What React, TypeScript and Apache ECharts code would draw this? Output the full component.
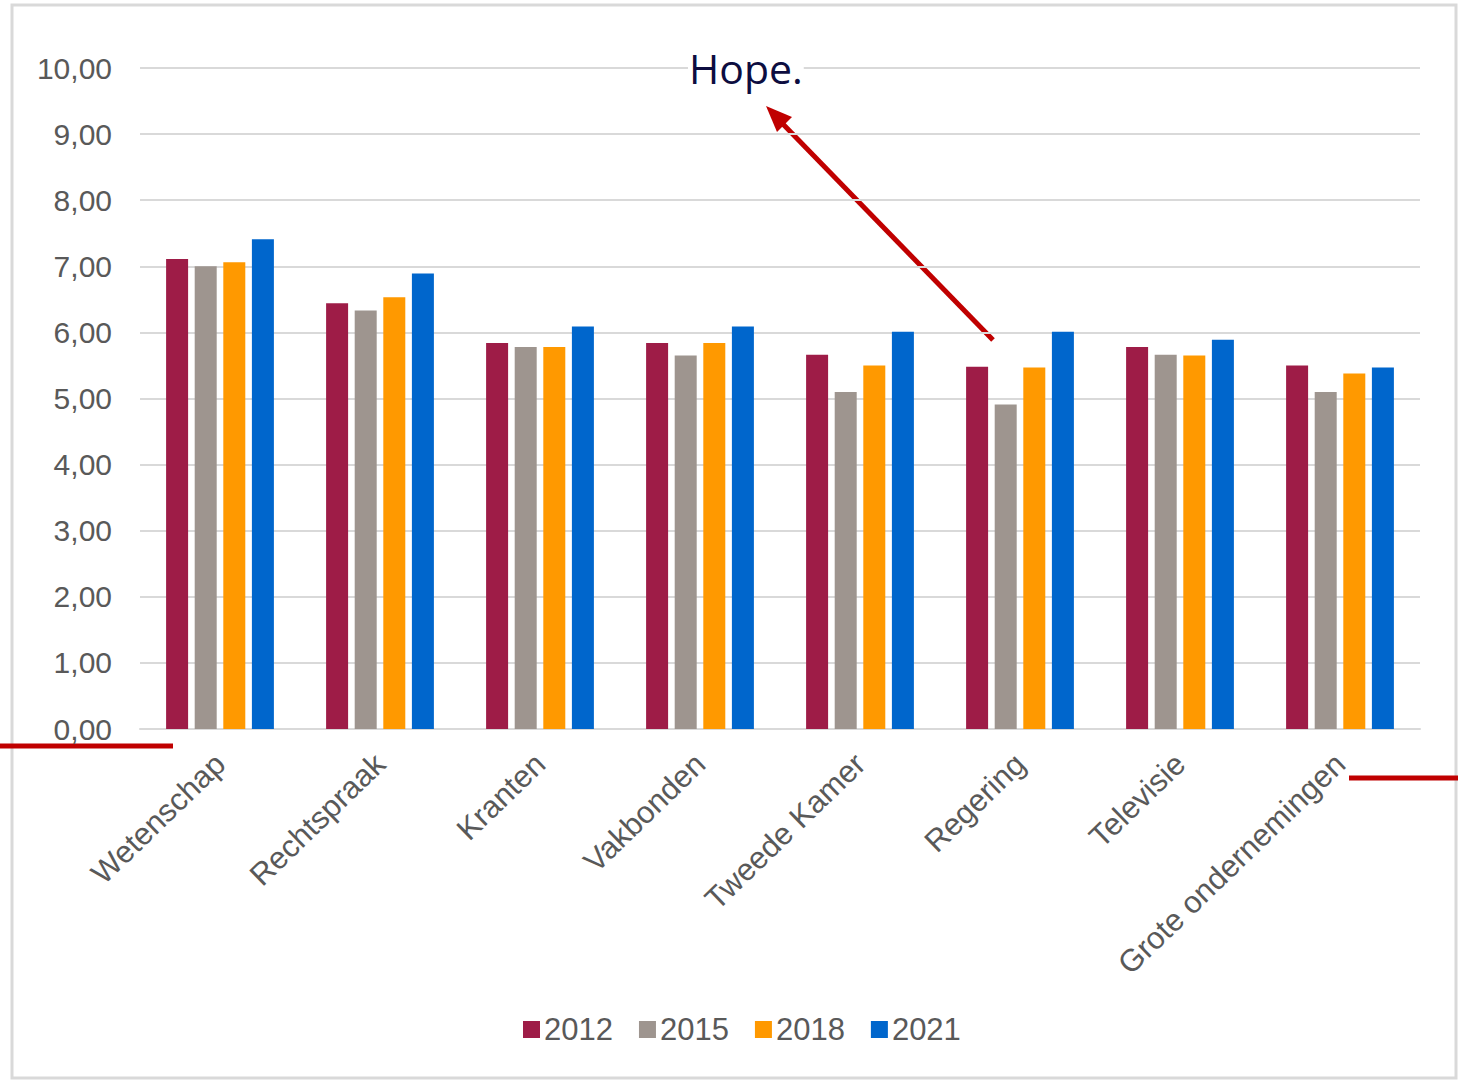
import React, { useEffect, useRef } from "react";
import * as echarts from "echarts";

const categories = [
  "Wetenschap",
  "Rechtspraak",
  "Kranten",
  "Vakbonden",
  "Tweede Kamer",
  "Regering",
  "Televisie",
  "Grote ondernemingen",
];
const years = ["2012", "2015", "2018", "2021"];
const values2012 = [7.11, 6.44, 5.84, 5.84, 5.66, 5.48, 5.78, 5.5];
const values2015 = [7.0, 6.33, 5.78, 5.65, 5.1, 4.91, 5.66, 5.1];
const values2018 = [7.06, 6.53, 5.78, 5.84, 5.5, 5.47, 5.65, 5.38];
const values2021 = [7.41, 6.89, 6.09, 6.09, 6.01, 6.01, 5.89, 5.47];
const seriesValues = [values2012, values2015, values2018, values2021];
const colors = ["#9E1C47", "#9E958F", "#FF9900", "#0066CC"];
const annotationText = "Hope.";

export default function App() {
  const ref = useRef<HTMLDivElement>(null);
  useEffect(() => {
    if (!ref.current) return;
    const chart = echarts.init(ref.current, null, { renderer: "svg" });
    const font = "'Liberation Sans', Arial, sans-serif";
    chart.setOption({
      animation: false,
      backgroundColor: "#ffffff",
      grid: { left: 140, right: 38, top: 68, bottom: 361, containLabel: false },
      legend: {
        left: 518,
        top: 1009,
        itemWidth: 17,
        itemHeight: 17,
        itemGap: 26,
        icon: "rect",
        textStyle: { fontSize: 31, color: "#595959", fontFamily: font, padding: [0, 0, 0, -1] },
        data: years,
      },
      xAxis: {
        type: "category",
        data: categories,
        axisLine: { show: true, lineStyle: { color: "#D9D9D9", width: 2 } },
        axisTick: { show: false },
        axisLabel: {
          rotate: 44,
          margin: 30,
          fontSize: 31,
          color: "#595959",
          fontFamily: font,
          interval: 0,
        },
      },
      yAxis: {
        type: "value",
        min: 0,
        max: 10,
        interval: 1,
        axisLine: { show: false },
        axisTick: { show: false },
        splitLine: { lineStyle: { color: "#D9D9D9", width: 2 } },
        axisLabel: {
          margin: 28,
          fontSize: 30,
          color: "#595959",
          fontFamily: font,
          formatter: (v: number) => v.toFixed(2).replace(".", ","),
        },
      },
      series: years.map((y, i) => ({
        name: y,
        type: "bar",
        data: seriesValues[i],
        barWidth: 22,
        barGap: "30%",
        itemStyle: { color: colors[i] },
      })),
      graphic: [
        {
          type: "rect",
          shape: { x: 12, y: 5, width: 1444, height: 1073 },
          style: { fill: "none", stroke: "#D9D9D9", lineWidth: 3 },
          silent: true,
        },
        {
          type: "text",
          x: 688,
          y: 47,
          z: 100,
          style: {
            text: annotationText,
            fill: "#0D0D40",
            fontSize: 41,
            fontFamily: "'Open Sans', sans-serif",
            backgroundColor: "#ffffff",
            padding: [0, 1],
          },
        },
        {
          type: "line",
          shape: { x1: 993, y1: 340, x2: 779, y2: 120 },
          style: { stroke: "#C00000", lineWidth: 5 },
        },
        {
          type: "polygon",
          shape: { points: [[766, 106], [792, 117], [777, 132]] },
          style: { fill: "#C00000" },
        },
        {
          type: "line",
          shape: { x1: 0, y1: 746, x2: 173, y2: 746 },
          style: { stroke: "#C00000", lineWidth: 5 },
        },
        {
          type: "line",
          shape: { x1: 1349, y1: 778, x2: 1458, y2: 778 },
          style: { stroke: "#C00000", lineWidth: 5 },
        },
      ],
    });
    return () => chart.dispose();
  }, []);
  return (
    <div
      ref={ref}
      style={{ position: "fixed", left: 0, top: 0, width: 1458, height: 1090 }}
    />
  );
}
